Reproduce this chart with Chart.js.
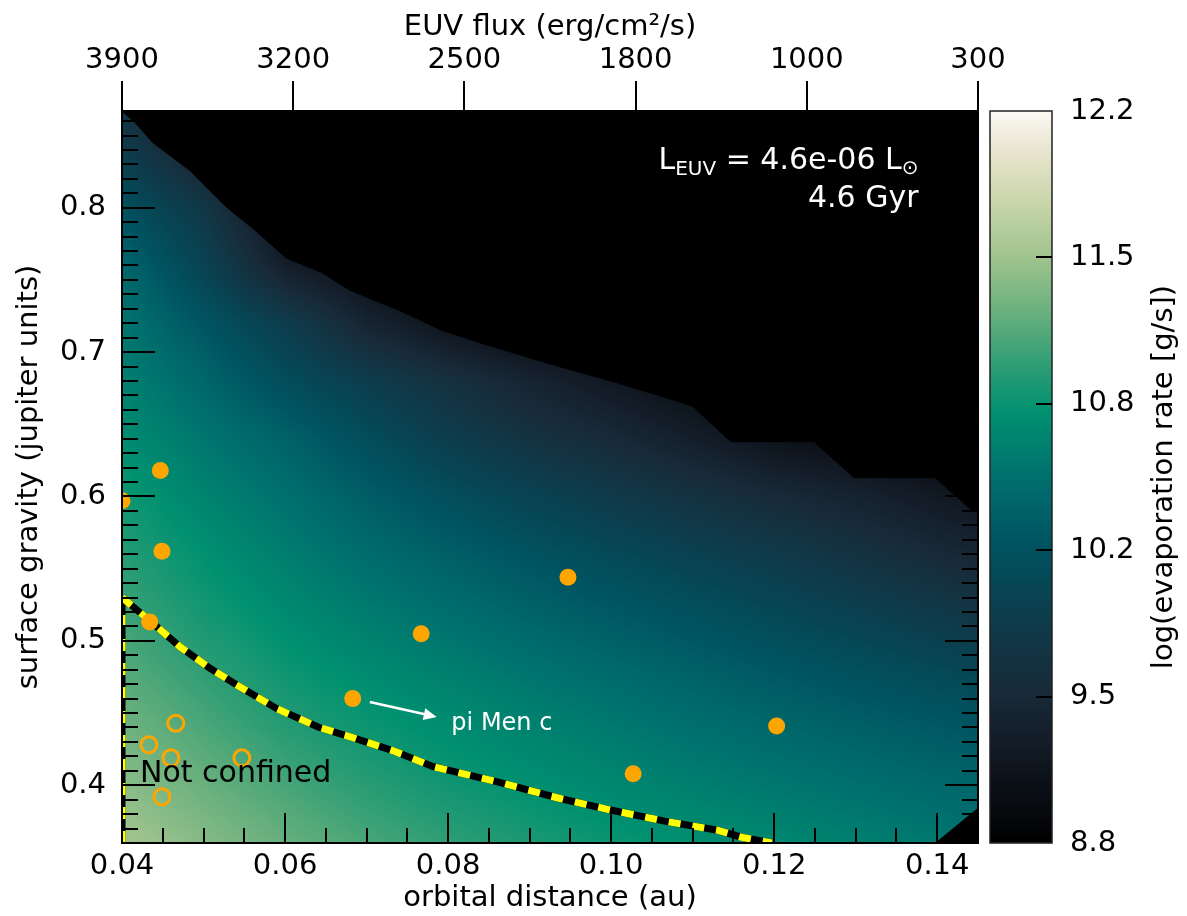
<!DOCTYPE html>
<html>
<head>
<meta charset="utf-8">
<script src="https://cdn.jsdelivr.net/npm/chart.js@4.4.1/dist/chart.umd.min.js"></script>
<style>
  html, body { margin: 0; padding: 0; background: #fff; overflow: hidden; }
  canvas { display: block; }
</style>
</head>
<body>
<canvas id="chart" width="1187" height="916"></canvas>
<script>
// log(evaporation rate), rows follow gridY, columns follow gridX
const gridX = [0.04, 0.05, 0.06, 0.07, 0.08, 0.09, 0.10, 0.11, 0.12, 0.13, 0.14, 0.15];
const gridY = [0.36, 0.40, 0.44, 0.48, 0.52, 0.56, 0.60, 0.64, 0.68, 0.72, 0.76, 0.80, 0.84, 0.88];
const evapRate = [
  [11.55, 11.40, 11.26, 11.13, 11.02, 10.93, 10.85, 10.78, 10.71, 10.64, 10.57, 10.50],
  [11.42, 11.27, 11.12, 10.99, 10.88, 10.79, 10.71, 10.63, 10.56, 10.49, 10.42, 10.35],
  [11.30, 11.14, 10.98, 10.86, 10.76, 10.67, 10.58, 10.49, 10.41, 10.33, 10.25, 10.17],
  [11.18, 11.02, 10.86, 10.74, 10.63, 10.53, 10.43, 10.33, 10.23, 10.13, 10.03, 9.93],
  [11.08, 10.90, 10.74, 10.60, 10.48, 10.36, 10.25, 10.14, 10.02, 9.90, 9.78, 9.65],
  [10.98, 10.80, 10.62, 10.46, 10.32, 10.18, 10.05, 9.92, 9.80, 9.65, 9.50, 9.35],
  [10.88, 10.68, 10.50, 10.30, 10.12, 9.95, 9.80, 9.65, 9.50, 9.38, 9.22, 9.10],
  [10.76, 10.55, 10.35, 10.10, 9.85, 9.65, 9.50, 9.30, 9.10, 9.00, 8.90, 8.90],
  [10.65, 10.40, 10.10, 9.85, 9.62, 9.40, 9.20, 9.00, 8.90, 8.90, 8.90, 8.90],
  [10.55, 10.20, 9.85, 9.40, 9.10, 8.90, 8.90, 8.90, 8.90, 8.90, 8.90, 8.90],
  [10.40, 9.95, 9.30, 9.00, 8.90, 8.90, 8.90, 8.90, 8.90, 8.90, 8.90, 8.90],
  [10.15, 9.75, 9.00, 8.90, 8.90, 8.90, 8.90, 8.90, 8.90, 8.90, 8.90, 8.90],
  [9.85, 9.30, 8.90, 8.90, 8.90, 8.90, 8.90, 8.90, 8.90, 8.90, 8.90, 8.90],
  [9.60, 9.00, 8.90, 8.90, 8.90, 8.90, 8.90, 8.90, 8.90, 8.90, 8.90, 8.90]
];

// edge of the black (no solution) region
const maskX = [0.0400, 0.0416, 0.0438, 0.0483, 0.0529, 0.0560, 0.0602, 0.0646, 0.0679, 0.0740, 0.0793, 0.0842, 0.0924, 0.1006, 0.1099, 0.1147, 0.1249, 0.1298, 0.1398, 0.1441, 0.1450];
const maskY = [0.867, 0.859, 0.845, 0.826, 0.800, 0.786, 0.765, 0.755, 0.743, 0.729, 0.715, 0.706, 0.692, 0.679, 0.663, 0.638, 0.638, 0.613, 0.613, 0.591, 0.589];
const cornerX = [0.1398, 0.1450];
const cornerY = [0.360, 0.384];

// confinement limit
const limitX = [0.0400, 0.0434, 0.0471, 0.0508, 0.0545, 0.0590, 0.0642, 0.0683, 0.0732, 0.0781, 0.0863, 0.0936, 0.0998, 0.1067, 0.1129, 0.1160, 0.1197];
const limitY = [0.530, 0.514, 0.496, 0.481, 0.468, 0.453, 0.440, 0.433, 0.424, 0.413, 0.402, 0.391, 0.383, 0.375, 0.369, 0.364, 0.360];
const edgeX = [0.04, 0.04];
const edgeY = [0.360, 0.530];

// planets
const planetX = [0.0400, 0.0447, 0.0449, 0.0434, 0.0683, 0.0767, 0.0947, 0.1027, 0.1203];
const planetY = [0.597, 0.618, 0.562, 0.513, 0.460, 0.505, 0.544, 0.408, 0.441];
const looseX = [0.0466, 0.0433, 0.0460, 0.0547, 0.0449];
const looseY = [0.443, 0.428, 0.419, 0.419, 0.392];

const distTicks = [0.04, 0.06, 0.08, 0.10, 0.12, 0.14];
const gravTicks = [0.4, 0.5, 0.6, 0.7, 0.8];
const euvLabels = ['3900', '3200', '2500', '1800', '1000', '300'];
const rateTicks = [8.8, 9.48, 10.16, 10.84, 11.52, 12.2];

const cmapValues = [8.8, 9.0, 9.3, 9.5, 9.8, 10.0, 10.2, 10.5, 10.8, 11.0, 11.2, 11.5, 11.8, 12.0, 12.2];
const cmapColors = ['#000000', '#090c12', '#141e2a', '#182a38', '#0f3a4a', '#064654', '#005462', '#00706e',
  '#009170', '#2a9c74', '#5aab7a', '#9cc28c', '#cdd7ae', '#e6e4cc', '#fcf8f3'];

const FONT = 'DejaVu Sans';
Chart.defaults.font.family = FONT;
Chart.defaults.color = '#000';

const pts = (xs, ys) => xs.map((x, i) => ({ x, y: ys[i] }));

function hexToRgb(h) {
  return [parseInt(h.slice(1, 3), 16), parseInt(h.slice(3, 5), 16), parseInt(h.slice(5, 7), 16)];
}

const LUT_N = 1024;
const lut = (() => {
  const rgb = cmapColors.map(hexToRgb);
  const out = [];
  for (let i = 0; i < LUT_N; i++) {
    const v = cmapValues[0] + (cmapValues[cmapValues.length - 1] - cmapValues[0]) * i / (LUT_N - 1);
    let k = 0;
    while (k < cmapValues.length - 2 && v > cmapValues[k + 1]) k++;
    const t = Math.min(1, Math.max(0, (v - cmapValues[k]) / (cmapValues[k + 1] - cmapValues[k])));
    out.push(rgb[k].map((c, j) => Math.round(c + (rgb[k + 1][j] - c) * t)));
  }
  return out;
})();

function colorFor(v) {
  const lo = cmapValues[0], hi = cmapValues[cmapValues.length - 1];
  const i = Math.round((Math.min(hi, Math.max(lo, v)) - lo) / (hi - lo) * (LUT_N - 1));
  return lut[i];
}

function locate(arr, v) {
  let i = 0;
  while (i < arr.length - 2 && v > arr[i + 1]) i++;
  const t = Math.min(1, Math.max(0, (v - arr[i]) / (arr[i + 1] - arr[i])));
  return [i, t];
}

const heatmap = {
  id: 'heatmap',
  beforeDatasetsDraw(chart) {
    const { ctx, chartArea: a, scales: { x, y } } = chart;
    const left = Math.round(a.left), top = Math.round(a.top);
    const w = Math.round(a.right) - left, h = Math.round(a.bottom) - top;
    const img = ctx.createImageData(w, h);
    const cols = [], rows = [];
    for (let i = 0; i < w; i++) cols.push(locate(gridX, x.getValueForPixel(left + i + 0.5)));
    for (let j = 0; j < h; j++) rows.push(locate(gridY, y.getValueForPixel(top + j + 0.5)));
    for (let j = 0; j < h; j++) {
      const [r, ty] = rows[j];
      const r0 = evapRate[r], r1 = evapRate[r + 1];
      for (let i = 0; i < w; i++) {
        const [c, tx] = cols[i];
        const v = (r0[c] * (1 - tx) + r0[c + 1] * tx) * (1 - ty) + (r1[c] * (1 - tx) + r1[c + 1] * tx) * ty;
        const col = colorFor(v);
        const p = (j * w + i) * 4;
        img.data[p] = col[0]; img.data[p + 1] = col[1]; img.data[p + 2] = col[2]; img.data[p + 3] = 255;
      }
    }
    ctx.putImageData(img, left, top);
  }
};

const decorations = {
  id: 'decorations',
  afterDraw(chart) {
    const { ctx, chartArea: a, scales: { x, y, cb } } = chart;
    ctx.save();

    // inward ticks
    ctx.strokeStyle = '#000';
    ctx.lineWidth = 2;
    ctx.beginPath();
    for (let k = 1; k <= 21; k++) {
      const px = Math.round(x.getPixelForValue(0.04 + k * 0.005));
      const len = k % 4 === 0 ? 30 : 15;
      ctx.moveTo(px, a.bottom); ctx.lineTo(px, a.bottom - len);
    }
    for (let k = 1; k <= 50; k++) {
      const py = Math.round(y.getPixelForValue(0.36 + k * 0.01));
      const len = (k + 6) % 10 === 0 ? 33 : 16;
      ctx.moveTo(a.left, py); ctx.lineTo(a.left + len, py);
      ctx.moveTo(a.right, py); ctx.lineTo(a.right - len, py);
    }
    ctx.stroke();
    ctx.strokeRect(a.left, a.top, a.right - a.left, a.bottom - a.top);

    // colorbar
    const cbL = cb.left + 12, cbW = 62;
    for (let py = Math.round(cb.top); py < Math.round(cb.bottom); py++) {
      const c = colorFor(cb.getValueForPixel(py + 0.5));
      ctx.fillStyle = `rgb(${c[0]},${c[1]},${c[2]})`;
      ctx.fillRect(cbL, py, cbW, 1);
    }
    ctx.lineWidth = 1.5;
    ctx.strokeStyle = '#222';
    ctx.strokeRect(cbL, cb.top, cbW, cb.bottom - cb.top);
    ctx.lineWidth = 2;
    ctx.strokeStyle = '#000';
    ctx.beginPath();
    rateTicks.slice(1, -1).forEach(v => {
      const py = Math.round(cb.getPixelForValue(v));
      ctx.moveTo(cbL + cbW, py); ctx.lineTo(cbL + cbW - 16, py);
    });
    ctx.stroke();

    ctx.save();
    ctx.translate(1164, (cb.top + cb.bottom) / 2);
    ctx.rotate(-Math.PI / 2);
    ctx.fillStyle = '#000';
    ctx.font = `29px "${FONT}"`;
    ctx.textAlign = 'center';
    ctx.textBaseline = 'middle';
    ctx.fillText('log(evaporation rate [g/s])', 0, 0);
    ctx.restore();

    // arrow to pi Men c
    const x0 = x.getPixelForValue(0.0704), y0 = y.getPixelForValue(0.4576);
    const x1 = x.getPixelForValue(0.0786), y1 = y.getPixelForValue(0.4473);
    const ang = Math.atan2(y1 - y0, x1 - x0);
    ctx.strokeStyle = '#fff';
    ctx.fillStyle = '#fff';
    ctx.lineWidth = 2.5;
    ctx.beginPath();
    ctx.moveTo(x0, y0);
    ctx.lineTo(x1 - 11 * Math.cos(ang), y1 - 11 * Math.sin(ang));
    ctx.stroke();
    ctx.beginPath();
    ctx.moveTo(x1, y1);
    ctx.lineTo(x1 - 13 * Math.cos(ang) + 6 * Math.sin(ang), y1 - 13 * Math.sin(ang) - 6 * Math.cos(ang));
    ctx.lineTo(x1 - 13 * Math.cos(ang) - 6 * Math.sin(ang), y1 - 13 * Math.sin(ang) + 6 * Math.cos(ang));
    ctx.closePath();
    ctx.fill();

    ctx.textBaseline = 'alphabetic';
    ctx.textAlign = 'left';
    ctx.font = `24px "${FONT}"`;
    ctx.fillText('pi Men c', x.getPixelForValue(0.0804), y.getPixelForValue(0.4383));

    ctx.fillStyle = '#000';
    ctx.font = `30px "${FONT}"`;
    ctx.fillText('Not confined', x.getPixelForValue(0.0422), y.getPixelForValue(0.4022));

    // luminosity / age label, right aligned
    const rx = x.getPixelForValue(0.1377);
    const b1 = y.getPixelForValue(0.8268), b2 = y.getPixelForValue(0.8004);
    const big = `30px "${FONT}"`, small = `20px "${FONT}"`;
    const parts = [['L', big, 0], ['EUV', small, 6], [' = 4.6e-06 L', big, 0], ['\u2299', small, 5]];
    let total = 0;
    parts.forEach(p => { ctx.font = p[1]; total += ctx.measureText(p[0]).width; });
    let cx = rx - total;
    ctx.fillStyle = '#fff';
    parts.forEach(p => {
      ctx.font = p[1];
      ctx.fillText(p[0], cx, b1 + p[2]);
      cx += ctx.measureText(p[0]).width;
    });
    ctx.font = big;
    ctx.textAlign = 'right';
    ctx.fillText('4.6 Gyr', rx, b2);

    ctx.restore();
  }
};

const tickFont = { size: 29, family: FONT };
// keep the label padding of vertical axes from pushing the plot area around
const fixWidth = w => s => { s.width = w; s.paddingTop = 0; s.paddingBottom = 0; };

new Chart(document.getElementById('chart'), {
  type: 'scatter',
  data: {
    datasets: [
      {
        data: pts(planetX, planetY),
        backgroundColor: '#ffa500', borderWidth: 0, pointRadius: 8.5, clip: 0, order: 1
      },
      {
        data: pts(looseX, looseY),
        backgroundColor: 'rgba(0,0,0,0)', borderColor: '#ffa500', borderWidth: 3, pointRadius: 8, clip: 0, order: 2
      },
      {
        type: 'line', data: pts(limitX, limitY),
        borderColor: '#ffff00', borderWidth: 7, borderDash: [12, 12], pointRadius: 0, fill: false, clip: 0, order: 3
      },
      {
        type: 'line', data: pts(limitX, limitY),
        borderColor: '#000', borderWidth: 7, pointRadius: 0, fill: false, clip: 0, order: 4
      },
      {
        type: 'line', data: pts(edgeX, edgeY),
        borderColor: '#ffff00', borderWidth: 7, borderDash: [12, 12], pointRadius: 0, fill: false, clip: 0, order: 3
      },
      {
        type: 'line', data: pts(edgeX, edgeY),
        borderColor: '#000', borderWidth: 7, pointRadius: 0, fill: false, clip: 0, order: 4
      },
      {
        type: 'line', data: pts(maskX, maskY),
        borderColor: '#000', borderWidth: 1, backgroundColor: '#000', pointRadius: 0, fill: 'end', clip: 0, order: 6
      },
      {
        type: 'line', data: pts(cornerX, cornerY),
        borderColor: '#000', borderWidth: 1, backgroundColor: '#000', pointRadius: 0, fill: 'start', clip: 0, order: 6
      }
    ]
  },
  options: {
    responsive: false,
    animation: false,
    events: [],
    layout: { padding: 0 },
    plugins: { legend: { display: false }, tooltip: { enabled: false } },
    scales: {
      x: {
        type: 'linear', position: 'bottom', min: 0.04, max: 0.145,
        afterBuildTicks: s => { s.ticks = distTicks.map(v => ({ value: v })); },
        afterFit: s => { s.height = 73; },
        grid: { display: false, drawTicks: false },
        border: { display: false },
        ticks: { font: tickFont, padding: 6, maxRotation: 0, autoSkip: false, callback: v => v.toFixed(2) },
        title: { display: true, text: 'orbital distance (au)', font: tickFont, padding: { top: 0, bottom: 0 } }
      },
      x2: {
        type: 'linear', position: 'top', min: 0, max: euvLabels.length - 1,
        afterBuildTicks: s => { s.ticks = euvLabels.map((_, i) => ({ value: i })); },
        afterFit: s => { s.height = 111; },
        grid: { drawOnChartArea: false, drawTicks: true, tickLength: 30, color: '#000', lineWidth: 2 },
        border: { display: false },
        ticks: { font: tickFont, padding: 3, maxRotation: 0, autoSkip: false, callback: (v, i) => euvLabels[i] },
        title: { display: true, text: 'EUV flux (erg/cm\u00b2/s)', font: tickFont, padding: { top: 10, bottom: 0 } }
      },
      y: {
        type: 'linear', position: 'left', min: 0.36, max: 0.867,
        afterBuildTicks: s => { s.ticks = gravTicks.map(v => ({ value: v })); },
        afterFit: fixWidth(122),
        grid: { display: false, drawTicks: false },
        border: { display: false },
        ticks: { font: tickFont, padding: 16, autoSkip: false, callback: v => v.toFixed(1) },
        title: { display: true, text: 'surface gravity (jupiter units)', font: tickFont, padding: { top: 12, bottom: 0 } }
      },
      cb: {
        type: 'linear', position: 'right', min: 8.8, max: 12.2,
        afterBuildTicks: s => { s.ticks = rateTicks.map(v => ({ value: v })); },
        afterFit: fixWidth(209),
        grid: { display: false, drawTicks: false },
        border: { display: false },
        ticks: { font: tickFont, padding: 92, autoSkip: false, callback: v => v.toFixed(1) }
      }
    }
  },
  plugins: [heatmap, decorations]
});
</script>
</body>
</html>
